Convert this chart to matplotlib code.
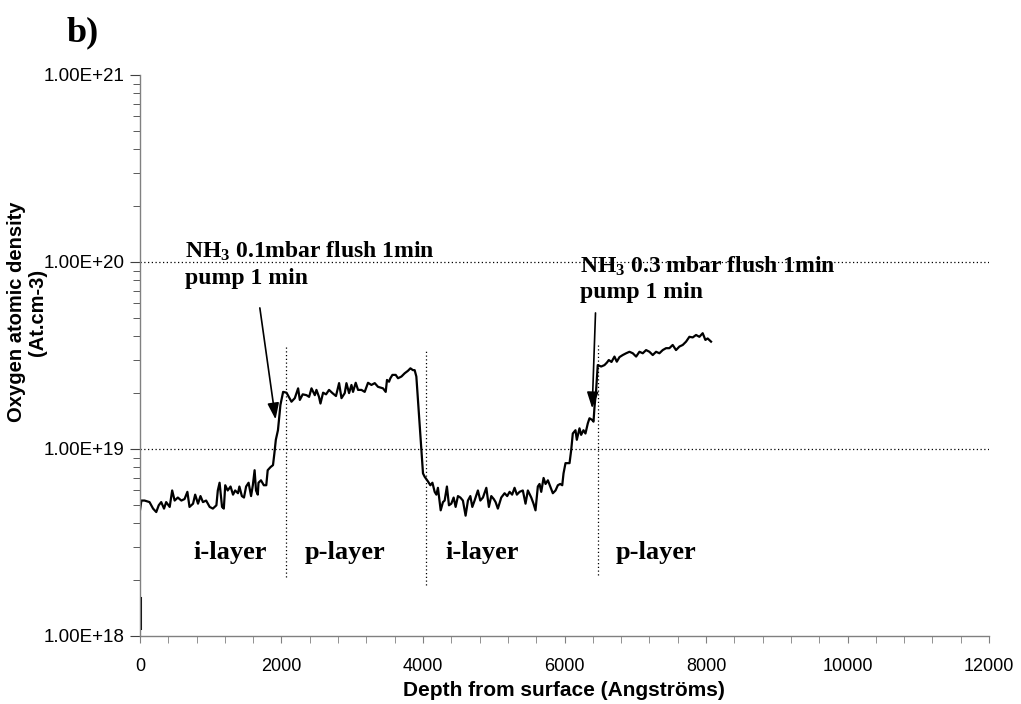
import numpy as np
import matplotlib
matplotlib.use("Agg")
import matplotlib.pyplot as plt
from matplotlib.ticker import LogLocator, FixedLocator, NullFormatter

# depth (Angstrom) and oxygen density (units of 1e18 at/cm3)
start_depth = [0, 0]
start_oxy = [1.1, 1.6]

depth = [0, 20, 65, 135, 185, 230, 265, 300, 340, 370, 420, 455, 490, 535, 585, 630,
         670, 700, 750, 780, 820, 855, 890, 935, 985, 1030, 1080, 1100, 1125, 1160, 1185,
         1205, 1240, 1280, 1315, 1345, 1385, 1405, 1440, 1470, 1500, 1535, 1570, 1595,
         1620, 1640, 1665, 1675, 1710, 1750, 1785, 1805, 1845, 1880, 1900, 1920, 1950,
         1985, 2023, 2071, 2141, 2188, 2235, 2259, 2300, 2353, 2390, 2424, 2471, 2494,
         2530, 2551, 2588, 2630, 2672, 2720, 2770, 2814, 2848, 2894, 2918, 2955, 2989,
         3011, 3049, 3082, 3130, 3176, 3223, 3271, 3318, 3364, 3435, 3473, 3491, 3520,
         3539, 3568, 3614, 3647, 3695, 3741, 3788, 3822, 3858, 3882, 3906, 3929, 3953,
         3977, 4000, 4024, 4071, 4104, 4133, 4165, 4189, 4211, 4235, 4250, 4282, 4306,
         4338, 4367, 4400, 4433, 4461, 4494, 4528, 4564, 4602, 4635, 4669, 4697, 4729,
         4776, 4810, 4847, 4895, 4931, 4965, 5000, 5026, 5058, 5106, 5153, 5190, 5224,
         5260, 5294, 5327, 5365, 5411, 5449, 5482, 5530, 5562, 5590, 5623, 5647, 5671,
         5704, 5732, 5765, 5798, 5835, 5873, 5906, 5939, 5968, 5986, 6014, 6047, 6071,
         6095, 6117, 6155, 6174, 6212, 6235, 6268, 6296, 6329, 6353, 6391, 6410, 6424,
         6447, 6470, 6518, 6565, 6600, 6626, 6664, 6706, 6739, 6777, 6823, 6871, 6918,
         6965, 7012, 7059, 7106, 7153, 7200, 7247, 7294, 7341, 7388, 7435, 7482, 7529,
         7576, 7624, 7671, 7718, 7765, 7812, 7859, 7906, 7953, 7991, 8023, 8071]
oxy = [4.7, 5.3, 5.3, 5.2, 4.8, 4.6, 5.0, 5.2, 4.8, 5.2, 4.9, 6.0, 5.3, 5.5, 5.3, 5.4,
       5.9, 4.9, 5.1, 5.7, 5.1, 5.6, 5.2, 5.3, 4.9, 4.8, 5.0, 6.0, 6.6, 4.9, 4.8,
       6.4, 6.0, 6.3, 5.7, 6.0, 5.8, 6.3, 5.6, 5.5, 6.3, 6.6, 5.6, 6.4,
       7.7, 6.0, 5.7, 6.6, 6.8, 6.4, 6.4, 7.7, 8.0, 8.2, 9.5, 11.2, 12.6,
       17.2, 20.2, 20.0, 17.9, 18.7, 21.1, 18.3, 19.6, 19.4, 19.0, 21.1, 19.4, 20.7,
       19.0, 17.5, 20.0, 19.6, 20.7, 19.9, 19.2, 22.5, 18.7, 19.9, 22.5, 19.9, 22.0,
       20.2, 22.6, 20.7, 20.7, 20.2, 22.6, 22.0, 22.5, 21.5, 21.1, 20.2, 23.4, 22.9,
       23.9, 24.9, 24.9, 23.9, 24.4, 25.4, 26.2, 27.0, 26.4, 26.4, 24.4, 18.3, 13.7,
       9.9, 7.4, 7.1, 6.7, 6.4, 6.6, 5.9, 5.7, 6.2, 5.2, 4.7, 5.2, 5.3,
       6.3, 5.0, 5.1, 5.5, 4.9, 5.6, 5.5, 5.3, 4.4, 5.3, 5.6, 4.9, 5.3,
       6.0, 5.3, 5.5, 6.2, 4.9, 5.6, 5.4, 5.2, 4.8, 5.5, 5.8, 5.6, 5.9,
       5.7, 6.2, 5.7, 5.9, 6.0, 5.1, 6.0, 5.5, 5.1, 4.7, 6.3, 6.5, 5.9,
       7.0, 6.5, 6.8, 6.3, 5.8, 6.0, 6.4, 6.5, 6.4, 7.4, 8.4, 8.4, 8.4,
       9.9, 12.1, 12.6, 11.2, 12.9, 11.9, 12.6, 12.1, 13.7, 14.6, 14.3, 14.0, 16.8,
       20.7, 28.1, 27.6, 28.1, 29.0, 29.9, 29.2, 31.2, 29.3, 31.0, 31.8, 32.5, 33.1,
       32.5, 31.2, 33.1, 32.5, 33.8, 33.1, 31.8, 33.1, 32.5, 33.8, 34.6, 34.6, 36.0,
       33.8, 35.3, 36.0, 37.5, 39.8, 39.5, 40.7, 39.8, 41.6, 38.3, 39.0, 37.5]

layer_names = ["i-layer", "p-layer", "i-layer", "p-layer"]
layer_x = [1271, 2894, 4842, 7300]
boundary_x = [2057, 4038, 6471]
boundary_lo = [2.07e18, 1.87e18, 2.12e18]
boundary_hi = [35.5e18, 33.8e18, 36.9e18]

notes = ["NH$_3$ 0.1mbar flush 1min\npump 1 min", "NH$_3$ 0.3 mbar flush 1min\npump 1 min"]
note_xy = [(635, 1.31e20), (6220, 1.10e20)]
arrow_from = [(1694, 5.68e19), (6438, 5.34e19)]
arrow_to = [(1916, 1.44e19), (6391, 1.65e19)]

plt.rcParams["mathtext.fontset"] = "custom"
plt.rcParams["mathtext.rm"] = "Liberation Serif:bold"
plt.rcParams["mathtext.it"] = "Liberation Serif:bold"
plt.rcParams["mathtext.bf"] = "Liberation Serif:bold"

fig = plt.figure(figsize=(10.21, 7.04), dpi=100)
ax = fig.add_axes([0.1371, 0.0966, 0.8316, 0.7969])

ax.plot(start_depth, np.array(start_oxy) * 1e18, color="black", lw=2.2)
ax.plot(depth, np.array(oxy) * 1e18, color="black", lw=1.6)

ax.set_yscale("log")
ax.set_xlim(0, 12000)
ax.set_ylim(1e18, 1e21)

for yv in [1e19, 1e20]:
    ax.axhline(yv, color="black", lw=0.9, ls=(0, (1, 2)))
for bx, lo, hi in zip(boundary_x, boundary_lo, boundary_hi):
    ax.vlines(bx, lo, hi, color="black", lw=0.9, linestyles=(0, (1, 2)))

for name, lx in zip(layer_names, layer_x):
    ax.text(lx, 2.78e18, name, ha="center", va="center",
            family="Liberation Serif", weight="bold", fontsize=19)

for txt, (tx, ty), a0, a1 in zip(notes, note_xy, arrow_from, arrow_to):
    ax.text(tx, ty, txt, ha="left", va="top", linespacing=1.3,
            family="Liberation Serif", weight="bold", fontsize=17)
    ax.annotate("", xy=a1, xytext=a0,
                arrowprops=dict(arrowstyle="-|>,head_length=0.7,head_width=0.25",
                                color="black", lw=1.2,
                                mutation_scale=14, shrinkA=0, shrinkB=0))

fig.text(0.081, 0.953, "b)", ha="center", va="center",
         family="Liberation Serif", weight="bold", fontsize=26)

# axes styling, Excel look
for s in ["top", "right"]:
    ax.spines[s].set_visible(False)
for s in ["left", "bottom"]:
    ax.spines[s].set_color("#808080")
    ax.spines[s].set_linewidth(1.0)

ax.xaxis.set_major_locator(FixedLocator(np.arange(0, 12001, 2000)))
ax.xaxis.set_minor_locator(FixedLocator(np.arange(0, 12001, 400)))
ax.set_xticklabels([str(v) for v in range(0, 12001, 2000)])
ax.yaxis.set_minor_locator(LogLocator(base=10, subs=np.arange(2, 10), numticks=10))
ax.yaxis.set_minor_formatter(NullFormatter())
ax.set_yticks([1e18, 1e19, 1e20, 1e21])
ax.set_yticklabels(["1.00E+18", "1.00E+19", "1.00E+20", "1.00E+21"])

ax.tick_params(axis="x", which="both", direction="out", length=5, color="#808080",
               labelsize=13, pad=11)
ax.tick_params(axis="y", which="major", direction="out", length=7, color="#404040",
               labelsize=13.5, pad=4)
ax.tick_params(axis="y", which="minor", direction="out", length=5, color="#404040")
for lab in ax.get_xticklabels() + ax.get_yticklabels():
    lab.set_family("Liberation Sans")

fig.text(564 / 1021, 1 - 690 / 704, "Depth from surface (Angströms)",
         ha="center", va="center", family="Liberation Sans", weight="bold", fontsize=15)
fig.text(27 / 1021, 1 - 312 / 704, "Oxygen atomic density\n(At.cm-3)",
         ha="center", va="center", rotation=90, multialignment="center",
         family="Liberation Sans", weight="bold", fontsize=14.5, linespacing=1.1)

fig.savefig("out.png", dpi=100)
